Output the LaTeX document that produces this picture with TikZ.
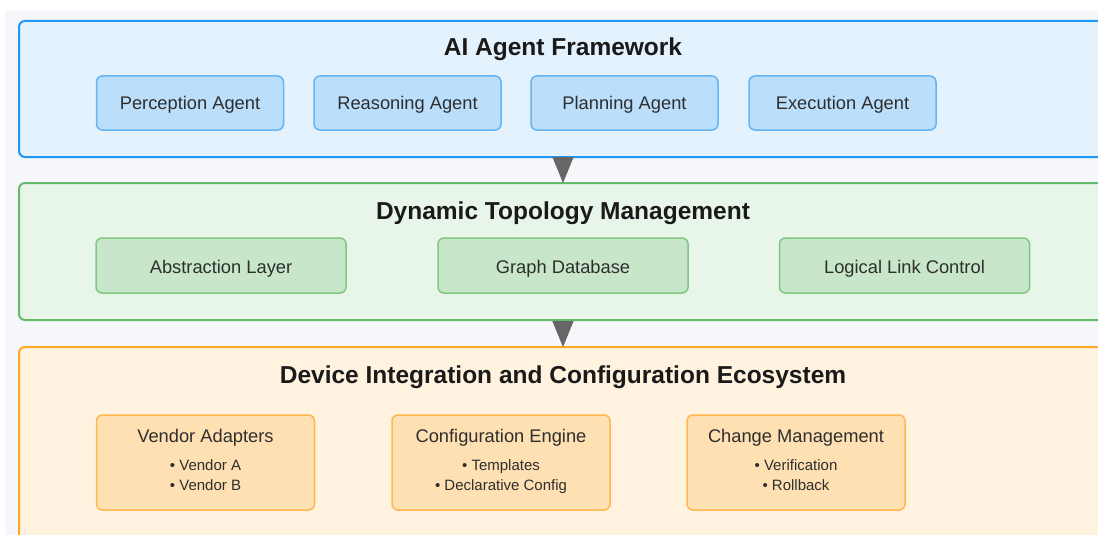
\documentclass[tikz,border=0pt]{standalone}
\usepackage{fontspec}
\setmainfont{Liberation Sans}
\usetikzlibrary{arrows.meta}

\definecolor{pagebg}{HTML}{F5F7FA}
\definecolor{blueFill}{HTML}{E3F2FD}
\definecolor{blueLine}{HTML}{2196F3}
\definecolor{blueBoxFill}{HTML}{BBDEFB}
\definecolor{blueBoxLine}{HTML}{64B5F6}
\definecolor{greenFill}{HTML}{E8F5E9}
\definecolor{greenLine}{HTML}{66BB6A}
\definecolor{greenBoxFill}{HTML}{C8E6C9}
\definecolor{greenBoxLine}{HTML}{81C784}
\definecolor{orangeFill}{HTML}{FFF3E0}
\definecolor{orangeLine}{HTML}{FFA726}
\definecolor{orangeBoxFill}{HTML}{FFE0B2}
\definecolor{orangeBoxLine}{HTML}{FFB74D}
\definecolor{arrowGray}{HTML}{666666}
\definecolor{textDark}{HTML}{1A1A1A}
\definecolor{textMid}{HTML}{2E2E2E}

\tikzset{
  layer/.style={draw, line width=2pt, rounded corners=6pt, minimum width=1088pt, inner sep=0pt},
  layertitle/.style={anchor=base, text=textDark, font=\fontsize{24.5}{28}\selectfont\bfseries, inner sep=0pt},
  part/.style={draw, line width=1.5pt, rounded corners=6pt, inner sep=0pt},
  agent/.style={part, fill=blueBoxFill, draw=blueBoxLine, minimum width=187pt, minimum height=54pt},
  topo/.style={part, fill=greenBoxFill, draw=greenBoxLine, minimum width=250pt, minimum height=55pt},
  device/.style={part, fill=orangeBoxFill, draw=orangeBoxLine, minimum width=218pt, minimum height=95pt},
  label/.style={anchor=base, text=textMid, font=\fontsize{18.3}{22}\selectfont, inner sep=0pt},
  bullet/.style={anchor=base, text=textMid, font=\fontsize{15}{18}\selectfont, inner sep=0pt},
  flow/.style={draw=arrowGray, line width=1pt, -{Triangle[width=21pt,length=26pt]}, color=arrowGray, shorten >=-1pt}
}

\begin{document}
\begin{tikzpicture}[x=1pt, y=-1pt]
  \useasboundingbox (0,0) rectangle (1098,535);
  \clip (0,0) rectangle (1098,535);
  \fill[white] (0,0) rectangle (1098,535);
  \fill[pagebg] (5,10) rectangle (1098,535);

  % layers
  \node[layer, fill=blueFill, draw=blueLine, minimum height=136pt] (ai) at (563,89) {};
  \node[layer, fill=greenFill, draw=greenLine, minimum height=137pt] (topo) at (563,251.5) {};
  \node[layer, fill=orangeFill, draw=orangeLine, minimum height=200pt] (dev) at (563,447) {};

  % layer titles
  \node[layertitle] (aiT) at (563,56) {AI Agent Framework};
  \node[layertitle] (topoT) at (563,219.5) {Dynamic Topology Management};
  \node[layertitle] (devT) at (563,383.5) {Device Integration and Configuration Ecosystem};

  % agents
  \node[agent] (perc) at (190,103) {};
  \node[agent] (reas) at (407.5,103) {};
  \node[agent] (plan) at (624.5,103) {};
  \node[agent] (exec) at (842.5,103) {};
  \node[label] (percT) at (190,110) {Perception Agent};
  \node[label] (reasT) at (407.5,110) {Reasoning Agent};
  \node[label] (planT) at (624.5,110) {Planning Agent};
  \node[label] (execT) at (842.5,110) {Execution Agent};

  % topology components
  \node[topo] (abs) at (221,265.5) {};
  \node[topo] (gdb) at (563,265.5) {};
  \node[topo] (llc) at (904.5,265.5) {};
  \node[label] (absT) at (221,273.5) {Abstraction Layer};
  \node[label] (gdbT) at (563,273.5) {Graph Database};
  \node[label] (llcT) at (904.5,273.5) {Logical Link Control};

  % device integration components
  \node[device] (va) at (205.5,462.5) {};
  \node[label] (vaT) at (205.5,442.5) {Vendor Adapters};
  \node[bullet] (vaA) at (205.5,470) {• Vendor A};
  \node[bullet] (vaB) at (205.5,490) {• Vendor B};

  \node[device] (ce) at (501,462.5) {};
  \node[label] (ceT) at (501,442.5) {Configuration Engine};
  \node[bullet] (ceA) at (501,470) {• Templates};
  \node[bullet] (ceB) at (501,490) {• Declarative Config};

  \node[device] (cm) at (796,462.5) {};
  \node[label] (cmT) at (796,442.5) {Change Management};
  \node[bullet] (cmA) at (796,470) {• Verification};
  \node[bullet] (cmB) at (796,490) {• Rollback};

  % flow between layers
  \draw[flow] (ai.south) -- (topo.north);
  \draw[flow] (topo.south) -- (dev.north);
\end{tikzpicture}
\end{document}
